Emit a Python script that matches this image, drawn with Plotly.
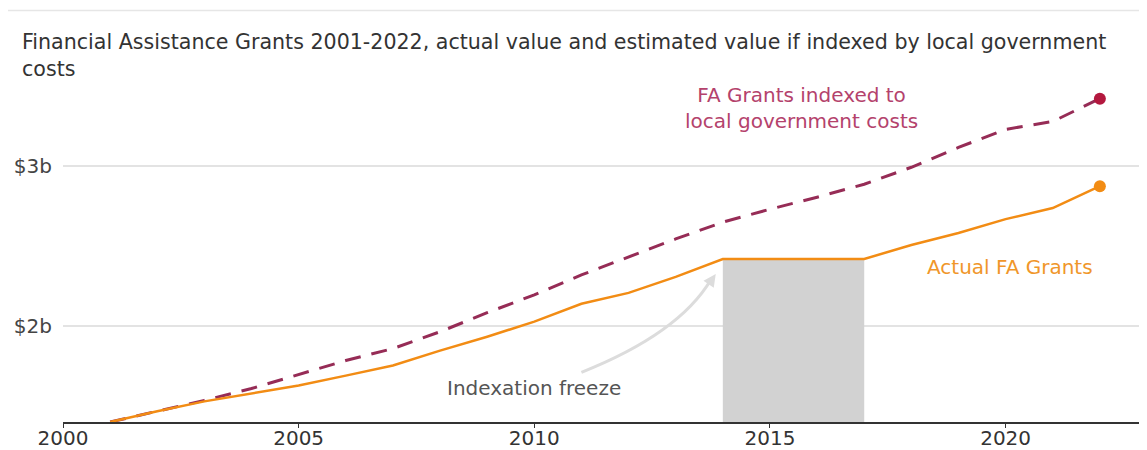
import plotly.graph_objects as go

years = list(range(2001, 2023))
actual = [1.40, 1.467, 1.529, 1.578, 1.628, 1.690, 1.753, 1.846, 1.933, 2.027,
          2.139, 2.207, 2.307, 2.419, 2.419, 2.419, 2.419, 2.506, 2.581, 2.668,
          2.737, 2.874]
indexed = [1.40, 1.467, 1.535, 1.609, 1.697, 1.784, 1.859, 1.964, 2.083, 2.195,
           2.319, 2.431, 2.544, 2.649, 2.730, 2.805, 2.886, 2.992, 3.116, 3.229,
           3.278, 3.421]
freeze_years = [2014, 2015, 2016, 2017]
x_ticks = [2000, 2005, 2010, 2015, 2020]
y_ticks = [2, 3]
y_tick_labels = ["$2b", "$3b"]

FONT = "DejaVu Sans"
ORANGE = "#f28c14"
MAROON = "#962c56"
DOT_MAROON = "#b3183e"

freeze_vals = [actual[years.index(y)] for y in freeze_years]

fig = go.Figure()
fig.add_trace(go.Scatter(x=freeze_years, y=freeze_vals, mode="lines",
                         line=dict(width=0), fill="tozeroy",
                         fillcolor="#d2d2d2", hoverinfo="skip", showlegend=False))
fig.add_trace(go.Scatter(x=years, y=indexed, mode="lines",
                         line=dict(color=MAROON, width=3, dash="16px,11px"),
                         showlegend=False))
fig.add_trace(go.Scatter(x=years, y=actual, mode="lines",
                         line=dict(color=ORANGE, width=2.5),
                         showlegend=False))
fig.add_trace(go.Scatter(x=[years[-1]], y=[indexed[-1]], mode="markers",
                         marker=dict(color=DOT_MAROON, size=12), showlegend=False))
fig.add_trace(go.Scatter(x=[years[-1]], y=[actual[-1]], mode="markers",
                         marker=dict(color=ORANGE, size=12), showlegend=False))

# curved arrow
fig.add_shape(type="path", xref="x", yref="y",
              path="M 2011.0,1.71 Q 2013.07,1.952 2013.75,2.29",
              line=dict(color="#dcdcdc", width=3))
fig.add_annotation(x=2013.85, y=2.325, ax=2013.72, ay=2.27, xref="x", yref="y",
                   axref="x", ayref="y", showarrow=True, arrowhead=2,
                   arrowsize=1, arrowwidth=2.5, arrowcolor="#dcdcdc", text="",
                   standoff=0)

fig.add_annotation(x=2015.67, y=3.36, xref="x", yref="y",
                   text="FA Grants indexed to<br>local government costs",
                   showarrow=False, font=dict(family=FONT, size=20, color="#b4426c"),
                   align="center")
fig.add_annotation(x=2020.1, y=2.37, xref="x", yref="y", text="Actual FA Grants",
                   showarrow=False, font=dict(family=FONT, size=20, color="#f0962a"))
fig.add_annotation(x=2010.0, y=1.61, xref="x", yref="y", text="Indexation freeze",
                   showarrow=False, font=dict(family=FONT, size=20, color="#555555"))

# top rule
fig.add_shape(type="line", xref="paper", yref="paper", x0=-0.051, x1=1.0,
              y0=1.225, y1=1.225, line=dict(color="#e6e6e6", width=1.5))

fig.update_layout(
    width=1139, height=442,
    margin=dict(l=55, r=0, t=78, b=26),
    paper_bgcolor="white", plot_bgcolor="white",
    title=dict(text="Financial Assistance Grants 2001-2022, actual value and estimated value if indexed by local government<br>costs",
               x=0.0123, xanchor="left", y=0.907, yanchor="top",
               font=dict(family=FONT, size=20.6, color="#333333")),
    xaxis=dict(range=[2000, 2023], tickvals=x_ticks, showgrid=False,
               showline=True, linecolor="#333333", linewidth=1.5,
               ticks="outside", ticklen=4, tickcolor="#333333",
               ticklabelstandoff=-7,
               tickfont=dict(family=FONT, size=20, color="#333333"), zeroline=False),
    yaxis=dict(range=[1.4, 3.5], tickvals=y_ticks, ticktext=y_tick_labels,
               showgrid=True, gridcolor="#e3e3e3", gridwidth=1.5, zeroline=False,
               showline=False, ticks="", ticklabelstandoff=10,
               tickfont=dict(family=FONT, size=20, color="#444444")),
)

fig.write_html("out.html")
